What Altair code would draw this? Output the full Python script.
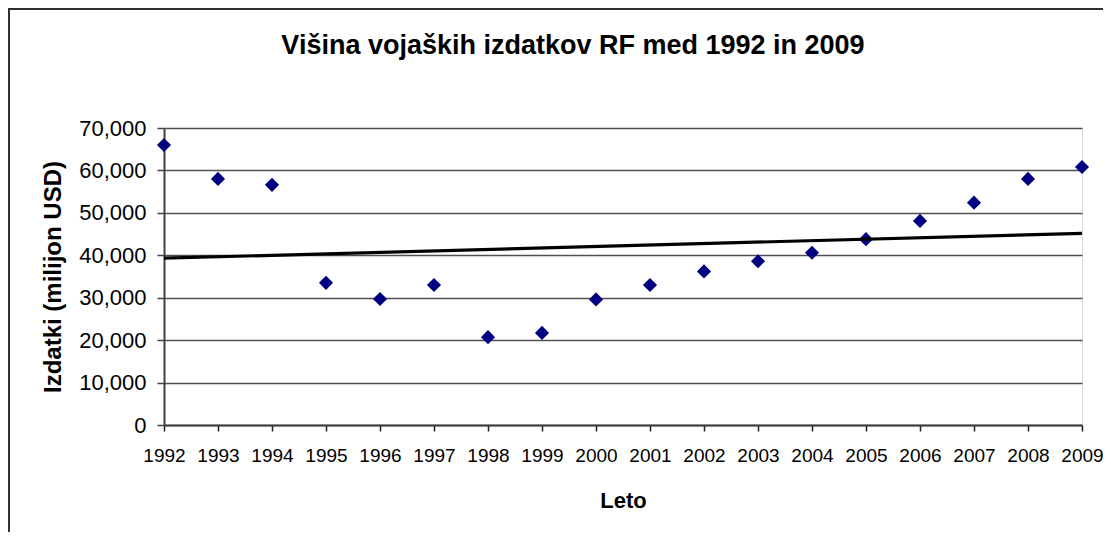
import altair as alt
import pandas as pd

years = [1992, 1993, 1994, 1995, 1996, 1997, 1998, 1999, 2000,
         2001, 2002, 2003, 2004, 2005, 2006, 2007, 2008, 2009]
spending = [66000, 58000, 56600, 33500, 29700, 33000, 20700, 21700, 29600,
            33000, 36200, 38600, 40600, 43800, 48100, 52400, 58000, 60800]
y_ticks = [0, 10000, 20000, 30000, 40000, 50000, 60000, 70000]

df = pd.DataFrame({"Leto": years, "Izdatki": spending})
FONT = "Liberation Sans"

x_enc = alt.X(
    "Leto:Q",
    scale=alt.Scale(domain=[1992, 2009], nice=False, zero=False),
    axis=alt.Axis(
        values=years, format="d", title="Leto", grid=False,
        labelFont=FONT, labelFontSize=19, labelColor="black",
        labelPadding=15, labelOverlap=False, labelFlush=False,
        tickSize=6, tickColor="#202020", tickWidth=1.5,
        domainColor="#404040", domainWidth=2,
        titleFont=FONT, titleFontSize=22, titleFontWeight="bold",
        titleColor="black", titlePadding=25,
    ),
)
y_enc = alt.Y(
    "Izdatki:Q",
    scale=alt.Scale(domain=[0, 70000], nice=False),
    axis=alt.Axis(
        values=y_ticks, format=",.0f", title="Izdatki (milijon USD)",
        grid=True, gridColor="#505050", gridWidth=1.5,
        labelFont=FONT, labelFontSize=22, labelColor="black",
        labelPadding=11,
        tickSize=7, tickColor="#404040", tickWidth=1.5,
        domainColor="#404040", domainWidth=2,
        titleFont=FONT, titleFontSize=24, titleFontWeight="bold",
        titleColor="black", titlePadding=13,
    ),
)

trend = (
    alt.Chart(df)
    .transform_regression("Leto", "Izdatki", extent=[1992, 2009])
    .mark_line(color="black", strokeWidth=3.2)
    .encode(x=alt.X("Leto:Q"), y=alt.Y("Izdatki:Q"))
)

points = (
    alt.Chart(df)
    .mark_point(shape="diamond", filled=True, color="#000080",
                size=200, opacity=1)
    .encode(x=x_enc, y=y_enc)
)

frame = (
    alt.Chart(pd.DataFrame({"f": [0]}))
    .mark_rect(fillOpacity=0, stroke="#303030", strokeWidth=2)
    .encode(x=alt.value(-155), x2=alt.value(1300),
            y=alt.value(-119), y2=alt.value(700))
)

chart = (
    alt.layer(points, trend, frame)
    .properties(
        width=918, height=297,
        padding={"left": 156, "top": 120, "right": 21, "bottom": 107},
        autosize="none",
        title=alt.Title(
            "Višina vojaških izdatkov RF med 1992 in 2009",
            font=FONT, fontSize=27, fontWeight="bold", color="black",
            anchor="middle", dx=-50, offset=-52,
        ),
    )
    .configure_view(fill="#C0C0C0", stroke="#808080", strokeWidth=1.5)
    .configure(background="white")
)

chart.save("out.html", embed_options={"renderer": "svg", "actions": False})
